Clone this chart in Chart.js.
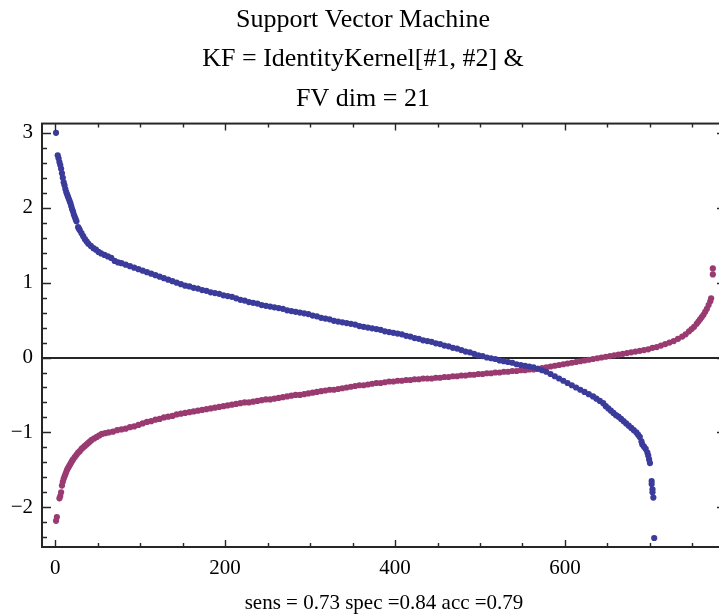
<!DOCTYPE html>
<html>
<head>
<meta charset="utf-8">
<title>Support Vector Machine</title>
<script src="https://cdn.jsdelivr.net/npm/chart.js@4.4.1/dist/chart.umd.min.js"></script>
<style>
    html, body { margin: 0; padding: 0; background: #fff; overflow: hidden; }
    #grafico { display: block; }
</style>
</head>
<body>
<canvas id="grafico" width="730" height="616"></canvas>
<script>
// decision values, sorted: positive class descending, negative class ascending
// each entry is [rank, score]
const posPoints = [
    [1,3.00],[3,2.70],[4,2.66],[5,2.61],[6,2.57],[7,2.52],[8,2.46],[9,2.40],[10,2.34],[11,2.30],
    [12,2.25],[13,2.21],[14,2.18],[15,2.15],[16,2.12],[17,2.09],[18,2.06],[19,2.02],[20,1.98],[21,1.95],
    [22,1.91],[23,1.88],[24,1.85],[25,1.82],[27,1.74],[28,1.72],[29,1.70],[31,1.66],[33,1.62],[35,1.58],
    [37,1.55],[39,1.52],[42,1.49],[45,1.46],[48,1.44],[51,1.41],[54,1.39],[58,1.37],[62,1.35],[66,1.33],
    [70,1.29],[74,1.27],[78,1.26],[83,1.24],[88,1.22],[93,1.20],[98,1.18],[103,1.16],[108,1.14],[113,1.12],
    [118,1.10],[123,1.08],[128,1.06],[133,1.04],[138,1.02],[143,1.00],[148,0.98],[153,0.96],[158,0.95],[163,0.93],
    [168,0.92],[173,0.90],[178,0.89],[183,0.87],[188,0.86],[193,0.85],[198,0.83],[203,0.82],[208,0.81],[213,0.79],
    [218,0.77],[223,0.76],[228,0.74],[233,0.73],[238,0.72],[243,0.70],[248,0.69],[253,0.68],[258,0.67],[263,0.66],
    [268,0.65],[273,0.63],[278,0.62],[283,0.61],[288,0.60],[293,0.59],[298,0.58],[303,0.56],[308,0.55],[313,0.53],
    [318,0.52],[323,0.51],[328,0.49],[333,0.48],[338,0.47],[343,0.46],[348,0.45],[353,0.44],[358,0.42],[363,0.41],
    [368,0.40],[373,0.39],[378,0.38],[383,0.37],[388,0.35],[393,0.34],[398,0.33],[403,0.32],[408,0.31],[413,0.29],
    [418,0.28],[423,0.26],[428,0.25],[433,0.23],[438,0.22],[443,0.21],[448,0.19],[453,0.18],[458,0.16],[463,0.15],
    [468,0.13],[473,0.12],[478,0.10],[483,0.08],[488,0.07],[493,0.05],[498,0.03],[503,0.02],[508,0.00],[513,-0.01],
    [518,-0.02],[523,-0.04],[528,-0.05],[533,-0.06],[538,-0.07],[543,-0.09],[548,-0.10],[553,-0.11],[558,-0.12],[563,-0.13],
    [568,-0.15],[573,-0.17],[578,-0.19],[583,-0.22],[588,-0.25],[593,-0.28],[598,-0.31],[603,-0.34],[608,-0.37],[613,-0.40],
    [618,-0.43],[623,-0.46],[628,-0.49],[633,-0.52],[637,-0.55],[641,-0.58],[645,-0.61],[648,-0.65],[651,-0.68],[654,-0.71],
    [657,-0.74],[660,-0.77],[663,-0.79],[666,-0.82],[669,-0.85],[672,-0.88],[675,-0.91],[678,-0.94],[681,-0.97],[684,-1.00],
    [686,-1.03],[688,-1.06],[690,-1.12],[691,-1.16],[693,-1.19],[695,-1.22],[697,-1.27],[698,-1.31],[699,-1.36],[700,-1.41],
    [702,-1.65],[702,-1.69],[703,-1.76],[703,-1.80],[704,-1.87],[705,-2.41]
];

const negPoints = [
    [1,-2.18],[2,-2.13],[5,-1.88],[6,-1.85],[7,-1.80],[8,-1.71],[9,-1.66],[10,-1.62],[11,-1.59],[12,-1.56],
    [13,-1.53],[14,-1.50],[15,-1.48],[16,-1.46],[17,-1.44],[18,-1.42],[19,-1.40],[20,-1.38],[21,-1.36],[23,-1.33],
    [25,-1.30],[27,-1.27],[29,-1.25],[31,-1.22],[33,-1.20],[35,-1.18],[37,-1.16],[39,-1.14],[41,-1.12],[43,-1.10],
    [46,-1.08],[49,-1.06],[52,-1.04],[55,-1.02],[59,-1.01],[63,-1.00],[68,-0.99],[73,-0.97],[78,-0.96],[83,-0.95],
    [88,-0.93],[93,-0.92],[98,-0.90],[103,-0.88],[108,-0.86],[113,-0.85],[118,-0.83],[123,-0.82],[128,-0.80],[133,-0.79],
    [138,-0.78],[143,-0.76],[148,-0.75],[153,-0.74],[158,-0.73],[163,-0.72],[168,-0.71],[173,-0.70],[178,-0.69],[183,-0.68],
    [188,-0.67],[193,-0.66],[198,-0.65],[203,-0.64],[208,-0.63],[213,-0.62],[218,-0.61],[223,-0.60],[228,-0.60],[233,-0.59],
    [238,-0.58],[243,-0.57],[248,-0.56],[253,-0.56],[258,-0.55],[263,-0.54],[268,-0.53],[273,-0.52],[278,-0.51],[283,-0.50],
    [288,-0.50],[293,-0.49],[298,-0.48],[303,-0.47],[308,-0.46],[313,-0.45],[318,-0.44],[323,-0.43],[328,-0.43],[333,-0.42],
    [338,-0.41],[343,-0.40],[348,-0.39],[353,-0.38],[358,-0.37],[363,-0.37],[368,-0.36],[373,-0.35],[378,-0.34],[383,-0.34],
    [388,-0.33],[393,-0.32],[398,-0.32],[403,-0.31],[408,-0.31],[413,-0.30],[418,-0.30],[423,-0.29],[428,-0.29],[433,-0.28],
    [438,-0.28],[443,-0.28],[448,-0.27],[453,-0.27],[458,-0.26],[463,-0.26],[468,-0.25],[473,-0.25],[478,-0.24],[483,-0.24],
    [488,-0.23],[493,-0.23],[498,-0.22],[503,-0.22],[508,-0.21],[513,-0.21],[518,-0.20],[523,-0.20],[528,-0.19],[533,-0.19],
    [538,-0.18],[543,-0.18],[548,-0.17],[553,-0.17],[558,-0.16],[563,-0.16],[568,-0.15],[573,-0.14],[578,-0.13],[583,-0.12],
    [588,-0.11],[593,-0.10],[598,-0.09],[603,-0.08],[608,-0.07],[613,-0.06],[618,-0.05],[623,-0.04],[628,-0.03],[633,-0.02],
    [638,-0.01],[643,0.00],[648,0.01],[653,0.02],[658,0.03],[663,0.04],[668,0.05],[673,0.06],[678,0.07],[683,0.08],
    [688,0.09],[693,0.10],[698,0.11],[703,0.13],[708,0.14],[713,0.16],[718,0.18],[723,0.20],[728,0.22],[733,0.25],
    [738,0.28],[742,0.31],[746,0.35],[749,0.38],[752,0.41],[755,0.45],[757,0.48],[759,0.51],[761,0.54],[763,0.57],
    [765,0.61],[767,0.65],[769,0.70],[771,0.75],[772,0.79],[774,1.11],[774,1.19]
];

const xTickLabels = [0, 200, 400, 600];
const yTickLabels = [-2, -1, 0, 1, 2, 3];

const tituloLinhas = ['Support Vector Machine', 'KF = IdentityKernel[#1, #2] &', 'FV dim = 21'];
const rodape = 'sens = 0.73 spec =0.84 acc =0.79';

const corAzul = '#3b3b9c';
const corRoxa = '#993b70';
const corMoldura = '#262626';
const fonteSerif = "'Liberation Serif', 'Times New Roman', serif";

function ehRotulo(lista, v) {
    return lista.some(r => Math.abs(r - v) < 1e-6);
}

// frame with inward ticks (all four sides) and the y = 0 axis line
const molduraPlugin = {
    id: 'moldura',
    beforeDatasetsDraw(chart) {
        const { ctx, chartArea: a, scales: { y } } = chart;
        const y0 = Math.round(y.getPixelForValue(0));
        ctx.save();
        ctx.strokeStyle = corMoldura;
        ctx.lineWidth = 2;
        ctx.beginPath();
        ctx.moveTo(a.left, y0);
        ctx.lineTo(a.right, y0);
        ctx.stroke();
        ctx.restore();
    },
    afterDraw(chart) {
        const { ctx, chartArea: a, scales: { x, y } } = chart;
        ctx.save();
        ctx.strokeStyle = corMoldura;
        ctx.lineWidth = 2;
        ctx.strokeRect(a.left, a.top, a.right - a.left, a.bottom - a.top);

        ctx.lineWidth = 1.4;
        ctx.beginPath();
        x.ticks.forEach(t => {
            const px = Math.round(x.getPixelForValue(t.value)) + 0.5;
            const len = ehRotulo(xTickLabels, t.value) ? 7 : 4;
            ctx.moveTo(px, a.bottom);
            ctx.lineTo(px, a.bottom - len);
            ctx.moveTo(px, a.top);
            ctx.lineTo(px, a.top + len);
        });
        y.ticks.forEach(t => {
            const py = Math.round(y.getPixelForValue(t.value)) + 0.5;
            const len = ehRotulo(yTickLabels, t.value) ? 9 : 5;
            ctx.moveTo(a.left, py);
            ctx.lineTo(a.left + len, py);
            ctx.moveTo(a.right, py);
            ctx.lineTo(a.right - len, py);
        });
        ctx.stroke();
        ctx.restore();
    }
};

Chart.defaults.font.family = fonteSerif;
Chart.defaults.color = '#000';

const ctx = document.getElementById('grafico').getContext('2d');

new Chart(ctx, {
    type: 'scatter',
    data: {
        datasets: [
            {
                label: 'positivos',
                data: posPoints.map(p => ({ x: p[0], y: p[1] })),
                backgroundColor: corAzul,
                borderWidth: 0,
                pointRadius: 3.1,
                pointHoverRadius: 3.1
            },
            {
                label: 'negativos',
                data: negPoints.map(p => ({ x: p[0], y: p[1] })),
                backgroundColor: corRoxa,
                borderWidth: 0,
                pointRadius: 3.1,
                pointHoverRadius: 3.1
            }
        ]
    },
    options: {
        responsive: false,
        animation: false,
        devicePixelRatio: 1,
        layout: { padding: { left: 0, right: 4, top: 0, bottom: 0 } },
        plugins: {
            legend: { display: false },
            tooltip: { enabled: false },
            title: {
                display: true,
                text: tituloLinhas,
                color: '#000',
                font: { size: 26, weight: 'normal', lineHeight: 1.52 },
                padding: { top: 0, bottom: 5 }
            }
        },
        scales: {
            x: {
                type: 'linear',
                min: -15.5,
                max: 789.5,
                grid: { display: false, drawTicks: false },
                border: { display: false },
                ticks: {
                    stepSize: 50,
                    includeBounds: false,
                    autoSkip: false,
                    maxRotation: 0,
                    padding: 9,
                    font: { size: 21 },
                    callback: v => ehRotulo(xTickLabels, v) ? String(Math.round(v)) : ''
                },
                title: {
                    display: true,
                    text: rodape,
                    font: { size: 21 },
                    padding: { top: 8, bottom: 0 }
                },
                afterFit(scale) { scale.height = 69; }
            },
            y: {
                type: 'linear',
                min: -2.53,
                max: 3.124,
                grid: { display: false, drawTicks: false },
                border: { display: false },
                ticks: {
                    stepSize: 0.2,
                    includeBounds: false,
                    autoSkip: false,
                    padding: 9,
                    font: { size: 21 },
                    callback: v => ehRotulo(yTickLabels, v) ? String(Math.round(v)).replace('-', '\u2212') : ''
                },
                afterFit(scale) { scale.width = 42; }
            }
        }
    },
    plugins: [molduraPlugin]
});
</script>
</body>
</html>
